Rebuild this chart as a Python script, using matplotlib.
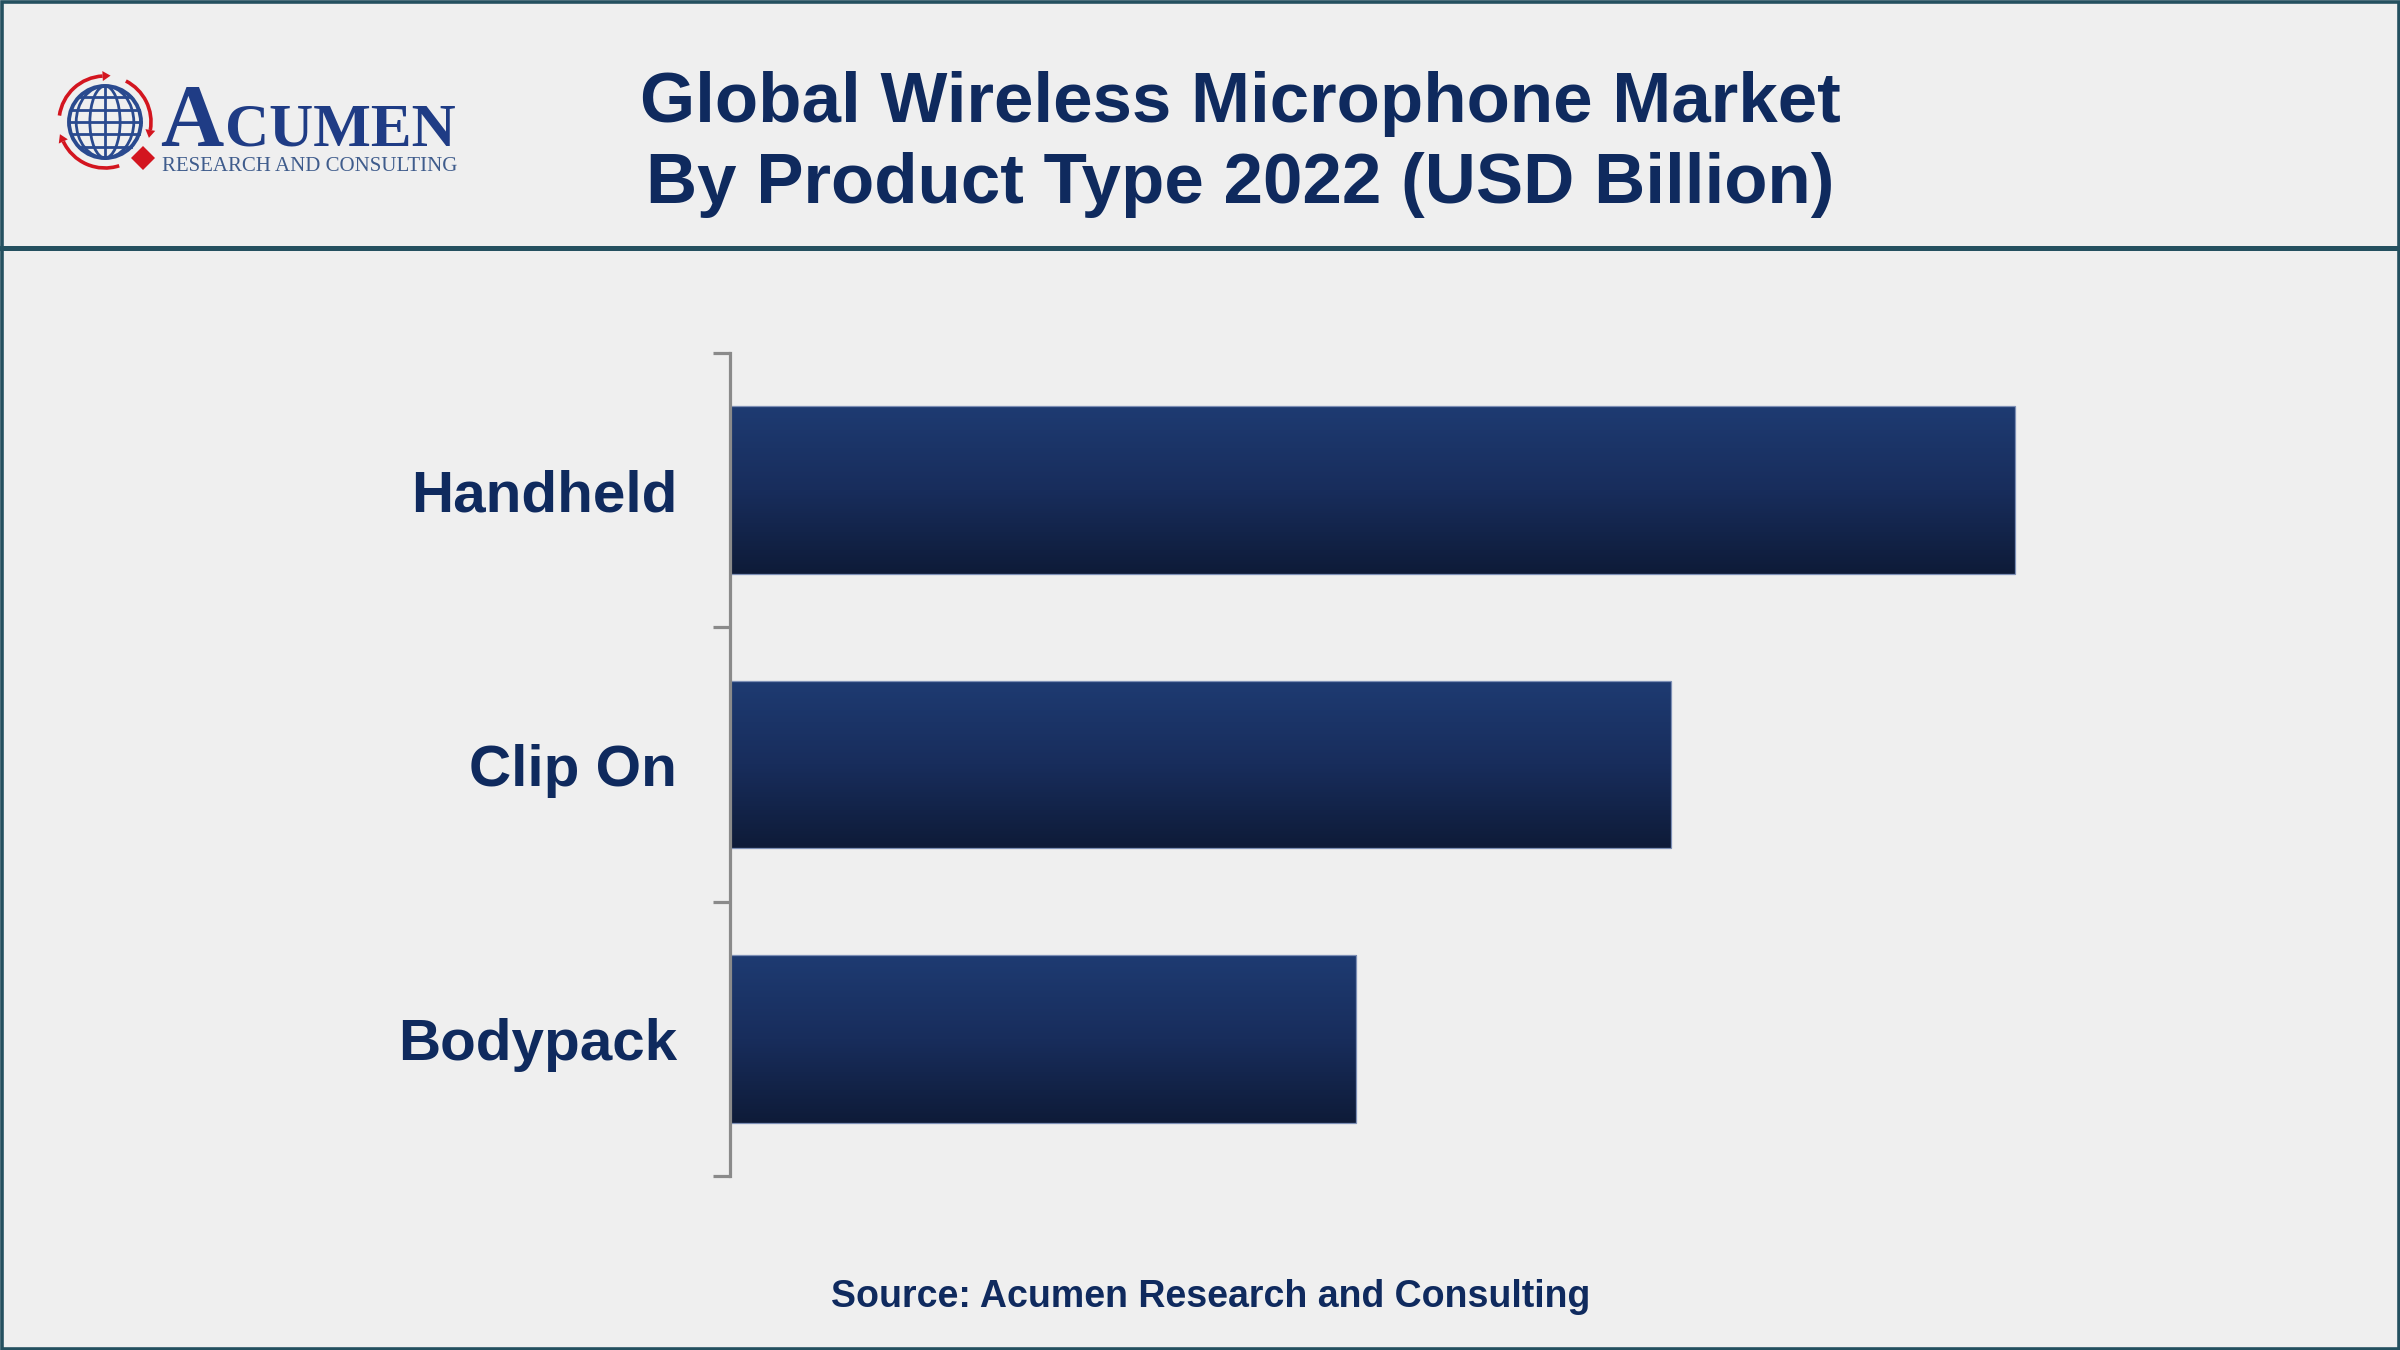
import numpy as np
import matplotlib
matplotlib.use("Agg")
import matplotlib.pyplot as plt
from matplotlib.patches import Circle, Ellipse, Arc, Polygon, Rectangle
from matplotlib.colors import LinearSegmentedColormap

# ---- data ----
categories = ["Handheld", "Clip On", "Bodypack"]
values = [1.02, 0.747, 0.497]
title_lines = ["Global Wireless Microphone Market", "By Product Type 2022 (USD Billion)"]
source_text = "Source: Acumen Research and Consulting"

# ---- style ----
BG = "#efefef"
BORDER = "#24505f"
NAVY = "#0f2a5e"
BAR_TOP = "#1e3b72"
BAR_BOT = "#0e1b38"
AXIS_GRAY = "#8a8a8a"

W, H, DPI = 24, 13.5, 100
fig = plt.figure(figsize=(W, H), dpi=DPI, facecolor=BG)

# background / decoration axes in pixel coordinates
bg = fig.add_axes([0, 0, 1, 1], zorder=0)
bg.set_xlim(0, 2400)
bg.set_ylim(1350, 0)
bg.axis("off")
bg.set_facecolor(BG)

# outer border and header divider
bg.add_patch(Rectangle((1.5, 1.5), 2397, 1347, fill=False, ec=BORDER, lw=2.6))
bg.add_patch(Rectangle((0, 246), 2400, 5, color=BORDER, lw=0))

# ---- logo ----
gc = (105, 122)
r = 36
globe_col = "#2a4a8f"
bg.add_patch(Circle(gc, r, fill=False, ec=globe_col, lw=2.8))
for wfrac in (0.42, 0.8):
    bg.add_patch(Ellipse(gc, 2 * r * wfrac, 2 * r, fill=False, ec=globe_col, lw=2.0))
bg.plot([gc[0], gc[0]], [gc[1] - r, gc[1] + r], color=globe_col, lw=2.0)
for yf in (-0.7, -0.33, 0.33, 0.7):
    half = r * np.sqrt(1 - yf ** 2)
    bg.plot([gc[0] - half, gc[0] + half], [gc[1] + yf * r, gc[1] + yf * r], color=globe_col, lw=2.0)
bg.plot([gc[0] - r, gc[0] + r], [gc[1], gc[1]], color=globe_col, lw=2.0)

red = "#d3151f"
ra = 46
for (a1, a2) in ((93, 172), (-10, 63), (205, 288)):
    bg.add_patch(Arc(gc, 2 * ra, 2 * ra, theta1=-a2, theta2=-a1, ec=red, lw=2.6))
    ang = np.deg2rad(a1)
    p = np.array([gc[0] + ra * np.cos(ang), gc[1] - ra * np.sin(ang)])
    tang = np.array([np.sin(ang), np.cos(ang)])
    nrm = np.array([np.cos(ang), -np.sin(ang)])
    tip = p + tang * 8
    bg.add_patch(Polygon([tip, p + nrm * 5, p - nrm * 5], closed=True, color=red, lw=0))
# diamond
dc = (143, 158)
d = 12
bg.add_patch(Polygon([(dc[0], dc[1] - d), (dc[0] + d, dc[1]), (dc[0], dc[1] + d), (dc[0] - d, dc[1])],
                     closed=True, color=red, lw=0))

logo_col = "#1f3c85"
bg.text(160, 145, "A", fontsize=63, family="Liberation Serif", weight="bold",
        color=logo_col, ha="left", va="baseline")
bg.text(225, 145, "CUMEN", fontsize=44, family="Liberation Serif", weight="bold",
        color=logo_col, ha="left", va="baseline")
bg.text(162, 171, "RESEARCH AND CONSULTING", fontsize=15, family="Liberation Serif",
        color="#3f5c8c", ha="left", va="baseline")

# ---- title ----
bg.text(1240, 104, title_lines[0], fontsize=51, family="Liberation Sans", weight="bold",
        color=NAVY, ha="center", va="center")
bg.text(1240, 185, title_lines[1], fontsize=51, family="Liberation Sans", weight="bold",
        color=NAVY, ha="center", va="center")

# ---- source ----
bg.text(1211, 1297, source_text, fontsize=27, family="Liberation Sans", weight="bold",
        color=NAVY, ha="center", va="center")

# ---- chart ----
ax_left, ax_right = 730, 2200
ax_top, ax_bot = 353, 1176
ax = fig.add_axes([ax_left / 2400, 1 - ax_bot / 1350, (ax_right - ax_left) / 2400,
                   (ax_bot - ax_top) / 1350], zorder=1)
ax.patch.set_alpha(0)

ypos = np.arange(len(categories))
bar_h = 0.612
bars = ax.barh(ypos, values, height=bar_h, color=BAR_TOP, edgecolor="none", zorder=2)

cmap = LinearSegmentedColormap.from_list("g", [BAR_TOP, "#182d5c", BAR_BOT])
grad = np.linspace(0, 1, 256).reshape(-1, 1)
for p in bars.patches:
    x0, y0 = p.get_x(), p.get_y()
    w, h = p.get_width(), p.get_height()
    im = ax.imshow(grad, cmap=cmap, aspect="auto", extent=(x0, x0 + w, y0 + h, y0),
                   origin="upper", zorder=3, interpolation="bicubic")
    im.set_clip_path(p)
ax.barh(ypos, values, height=bar_h, color="none", edgecolor="#7d8fb5", linewidth=0.9, zorder=4)

ax.set_xlim(0, 1.167)
ax.set_ylim(len(categories) - 0.5, -0.5)

for s in ("top", "right", "bottom"):
    ax.spines[s].set_visible(False)
ax.spines["left"].set_color(AXIS_GRAY)
ax.spines["left"].set_linewidth(2.3)
ax.spines["left"].set_zorder(5)

ax.set_xticks([])
ax.set_yticks(ypos)
ax.set_yticklabels(categories, fontsize=42, family="Liberation Sans", weight="bold", color=NAVY)
ax.tick_params(axis="y", which="major", length=0, pad=38)
ax.set_yticks(np.arange(-0.5, len(categories), 1.0), minor=True)
ax.tick_params(axis="y", which="minor", length=12.5, width=2.3, color=AXIS_GRAY, direction="out")

fig.savefig("out.png", dpi=DPI, facecolor=BG)
